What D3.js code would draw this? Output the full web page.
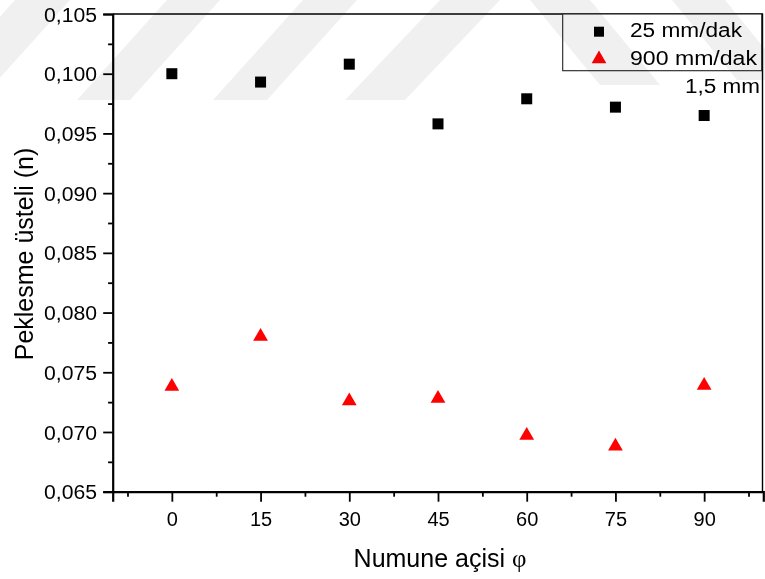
<!DOCTYPE html>
<html>
<head>
<meta charset="utf-8">
<script src="https://cdn.jsdelivr.net/npm/d3@7"></script>
<style>
  html, body { margin: 0; padding: 0; background: #fff; }
  svg { display: block; }
  text { font-family: "Liberation Sans", Arial, sans-serif; fill: #000; }
</style>
</head>
<body>
<svg id="chart" width="765" height="579"></svg>
<script>
// Sample angle (degrees) and strain-hardening exponent n for two crosshead speeds
const angles = [0, 15, 30, 45, 60, 75, 90];
const speed25 = [0.1000, 0.0993, 0.1008, 0.0958, 0.0979, 0.0972, 0.0965];
const speed900 = [0.0739, 0.0781, 0.0727, 0.0729, 0.0698, 0.0689, 0.0740];
const seriesNames = ["25 mm/dak", "900 mm/dak"];
const yTickValues = [0.065, 0.070, 0.075, 0.080, 0.085, 0.090, 0.095, 0.100, 0.105];
const yMinorValues = [0.0675, 0.0725, 0.0775, 0.0825, 0.0875, 0.0925, 0.0975, 0.1025];
const xMinorValues = [-7.5, 7.5, 22.5, 37.5, 52.5, 67.5, 82.5, 97.5];
const thicknessNote = "1,5 mm";
const xTitle = "Numune açisi ";
const yTitle = "Peklesme üsteli (n)";

// Faint diagonal background emblem across the top edge
const emblem = [
  [[-75,100],[-20,100],[70,0],[15,0]],
  [[77,100],[130,100],[220,0],[167,0]],
  [[213,100],[267,100],[357,0],[303,0]],
  [[345,100],[405,100],[500,0],[440,0]],
  [[530,0],[590,0],[660,85],[600,85]],
  [[672,0],[725,0],[790,80],[737,80]]
];

const svg = d3.select("#chart");
const plot = { left: 112.7, right: 762.5, top: 14, bottom: 491.7 };

const x = d3.scaleLinear().domain([-10, 100]).range([plot.left, 763.3]);
const y = d3.scaleLinear().domain([0.065, 0.105]).range([plot.bottom, plot.top]);
const comma = d3.formatLocale({ decimal: ",", thousands: ".", grouping: [3], currency: ["", ""] });
const fmtY = comma.format(".3f");

// Plot frame (top and right sides)
svg.append("path")
  .attr("d", `M${plot.left},${plot.top}H${plot.right}V${plot.bottom}`)
  .attr("fill", "none").attr("stroke", "#000").attr("stroke-width", 1.4);

// Y axis: major ticks with labels, minor ticks between
const yAxis = svg.append("g").attr("transform", `translate(${plot.left},0)`)
  .call(d3.axisLeft(y).tickValues(yTickValues).tickFormat(fmtY).tickSize(9.5).tickPadding(0));
yAxis.select(".domain").attr("stroke-width", 2.2);
yAxis.selectAll(".tick line").attr("stroke-width", 1.8);
yAxis.selectAll(".tick text")
  .attr("x", -15.7).attr("dy", "0.36em")
  .attr("font-size", 19.5).attr("font-family", "Liberation Sans, Arial, sans-serif")
  .attr("textLength", 53).attr("lengthAdjust", "spacingAndGlyphs");
svg.append("g").attr("transform", `translate(${plot.left},0)`)
  .call(d3.axisLeft(y).tickValues(yMinorValues).tickFormat("").tickSize(4.6))
  .call(g => g.select(".domain").remove())
  .selectAll(".tick line").attr("stroke-width", 1.8);

// X axis: major ticks with labels, minor ticks between
const xAxis = svg.append("g").attr("transform", `translate(0,${plot.bottom})`)
  .call(d3.axisBottom(x).tickValues(angles).tickFormat(d3.format("d")).tickSize(10).tickPadding(0));
xAxis.select(".domain").attr("stroke-width", 2.2);
xAxis.selectAll(".tick line").attr("stroke-width", 1.8);
xAxis.selectAll(".tick text")
  .attr("y", 34.3).attr("dy", null)
  .attr("font-size", 20).attr("font-family", "Liberation Sans, Arial, sans-serif");
svg.append("g").attr("transform", `translate(0,${plot.bottom})`)
  .call(d3.axisBottom(x).tickValues(xMinorValues).tickFormat("").tickSize(5))
  .call(g => g.select(".domain").remove())
  .selectAll(".tick line").attr("stroke-width", 1.8);

// Axis titles
const xt = svg.append("text").attr("x", 440).attr("y", 566.7)
  .attr("text-anchor", "middle").attr("font-size", 25);
xt.append("tspan").text(xTitle);
xt.append("tspan").attr("font-family", "Liberation Serif, serif").text("φ");

svg.append("text")
  .attr("transform", "translate(33,254) rotate(-90)")
  .attr("text-anchor", "middle").attr("font-size", 25)
  .text(yTitle);

// Markers
const squareSize = 11;
const tri = d3.symbol().type(d3.symbolTriangle).size(94);

svg.append("g").selectAll("rect").data(angles.map((a, i) => [a, speed25[i]]))
  .join("rect")
  .attr("x", d => x(d[0]) - squareSize / 2)
  .attr("y", d => y(d[1]) - squareSize / 2)
  .attr("width", squareSize).attr("height", squareSize)
  .attr("fill", "#000");

svg.append("g").selectAll("path").data(angles.map((a, i) => [a, speed900[i]]))
  .join("path")
  .attr("d", tri)
  .attr("transform", d => `translate(${x(d[0])},${y(d[1]) + 1.2})`)
  .attr("fill", "#ff0000");

// Legend
const legend = svg.append("g");
legend.append("rect")
  .attr("x", 562.7).attr("y", 14).attr("width", 199).attr("height", 56.7)
  .attr("fill", "#fff").attr("stroke", "#222").attr("stroke-width", 1.1);
legend.append("rect")
  .attr("x", 599 - 5).attr("y", 31.7 - 5).attr("width", 10).attr("height", 10)
  .attr("fill", "#000");
legend.append("path").attr("d", tri).attr("transform", "translate(599,59)").attr("fill", "#ff0000");
legend.append("text").attr("x", 630).attr("y", 37).attr("font-size", 20)
  .attr("textLength", 112).attr("lengthAdjust", "spacingAndGlyphs").text(seriesNames[0]);
legend.append("text").attr("x", 630).attr("y", 65.3).attr("font-size", 20)
  .attr("textLength", 127).attr("lengthAdjust", "spacingAndGlyphs").text(seriesNames[1]);

svg.append("text").attr("x", 760).attr("y", 92.7).attr("text-anchor", "end")
  .attr("font-size", 20.5).attr("textLength", 75).attr("lengthAdjust", "spacingAndGlyphs")
  .text(thicknessNote);

// Emblem overlay, multiplied so dark marks stay dark
svg.append("g").style("mix-blend-mode", "multiply").attr("pointer-events", "none")
  .selectAll("polygon").data(emblem).join("polygon")
  .attr("points", d => d.map(p => p.join(",")).join(" "))
  .attr("fill", "#f0f0f0");
</script>
</body>
</html>
